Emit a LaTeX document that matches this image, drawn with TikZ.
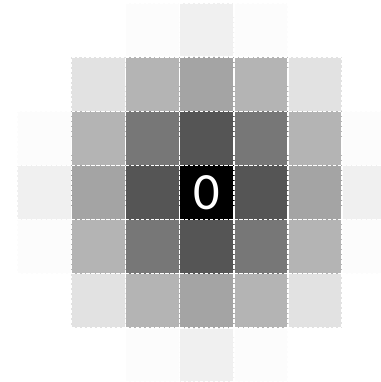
\documentclass[tikz,border=0pt]{standalone}
\usepackage{fontspec}
\setmainfont{Carlito}
\begin{document}
\begin{tikzpicture}[x=1cm,y=1cm,
  cell/.style={minimum size=1cm, inner sep=0pt, outer sep=0pt},
  border/.style={draw=white, dash pattern=on 1.5pt off 1.1pt, line width=0.75pt},
  label/.style={text=white, font=\fontsize{27.5}{27.5}\selectfont}]
\useasboundingbox (-3.818,-3.5) rectangle (3.217,3.554);
% fills
\foreach \i in {-3,...,3}{
  \foreach \j in {-3,...,3}{
    \pgfmathtruncatemacro\dd{\i*\i+\j*\j}
    \ifnum\dd<11
      \pgfmathsetmacro\g{\dd==0 ? 0 : (\dd==1 ? 0.333 : (\dd==2 ? 0.467 : (\dd==4 ? 0.643 : (\dd==5 ? 0.706 : (\dd==8 ? 0.886 : (\dd==9 ? 0.941 : 0.988))))))}
      \definecolor{cellc}{gray}{\g}
      \node[cell, fill=cellc] (c\i\j) at (\i,\j) {};
    \fi
  }
}
% dashed borders
\foreach \i in {-3,...,3}{
  \foreach \j in {-3,...,3}{
    \pgfmathtruncatemacro\dd{\i*\i+\j*\j}
    \ifnum\dd<11
      \draw[border] (c\i\j.south west) rectangle (c\i\j.north east);
    \fi
  }
}
\node[label] (zero) at (c00) {0};
\end{tikzpicture}
\end{document}
